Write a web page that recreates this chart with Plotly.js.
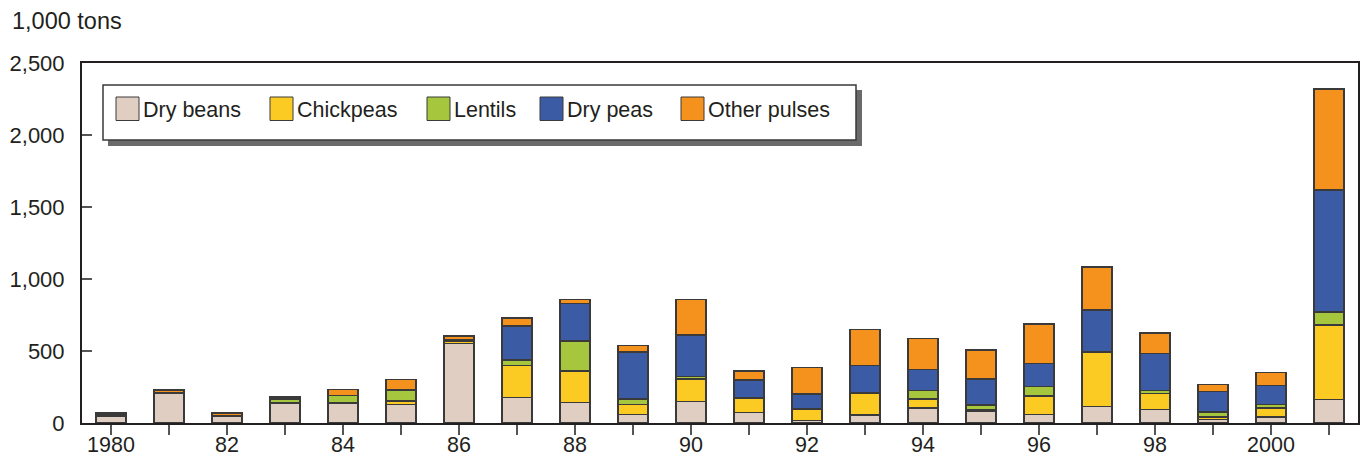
<!DOCTYPE html>
<html>
<head>
<meta charset="utf-8">
<script src="https://cdn.plot.ly/plotly-3.0.1.min.js"></script>
<style>
  html, body { margin: 0; padding: 0; background: #ffffff; }
  #chart { width: 1361px; height: 457px; }
</style>
</head>
<body>
<div id="chart"></div>
<script>
// ---- Data (1,000 tons) ----
const years = [1980, 1981, 1982, 1983, 1984, 1985, 1986, 1987, 1988, 1989, 1990,
               1991, 1992, 1993, 1994, 1995, 1996, 1997, 1998, 1999, 2000, 2001];
const dryBeans    = [45, 205, 45, 135, 137, 130, 552, 177, 144, 58, 151, 72, 19, 56, 104, 82, 60, 116, 95, 26, 42, 163];
const chickpeas   = [2, 3, 3, 5, 3, 23, 15, 224, 218, 70, 155, 102, 78, 148, 61, 12, 128, 373, 109, 14, 62, 516];
const lentils     = [12, 3, 3, 25, 50, 74, 8, 35, 208, 37, 18, 3, 4, 3, 62, 32, 67, 5, 23, 37, 26, 91];
const dryPeas     = [5, 2, 2, 3, 2, 3, 5, 236, 260, 327, 286, 120, 100, 194, 146, 178, 158, 290, 255, 143, 132, 847];
const otherPulses = [6, 15, 17, 13, 40, 72, 23, 58, 28, 46, 248, 65, 184, 248, 214, 202, 273, 301, 144, 47, 88, 703];

const seriesNames = ["Dry beans", "Chickpeas", "Lentils", "Dry peas", "Other pulses"];
const xTickLabels = ["1980", "", "82", "", "84", "", "86", "", "88", "", "90",
                     "", "92", "", "94", "", "96", "", "98", "", "2000", ""];
const yTickValues = [0, 500, 1000, 1500, 2000, 2500];
const unitLabel = "1,000 tons";

// ---- Styles ----
const seriesValues = [dryBeans, chickpeas, lentils, dryPeas, otherPulses];
const colors = ["#E0CEC2", "#FBCB24", "#A5C63D", "#3C5BA5", "#F5921E"];
const FONT = "Liberation Sans, Arial, Helvetica, sans-serif";
const TXT = "#231f20";

const traces = seriesNames.map((name, i) => ({
  type: "bar",
  name: name,
  x: years,
  y: seriesValues[i],
  marker: { color: colors[i], line: { color: "#3a3a3a", width: 1.5 } },
  showlegend: false,
  hoverinfo: "x+y+name"
}));

// plot-area geometry (pixels) for placing the hand-drawn legend
const W = 1361, H = 457;
const M = { l: 82, r: 3, t: 63, b: 34 };
const pw = W - M.l - M.r, ph = H - M.t - M.b;
const px = x => (x - M.l) / pw;
const py = y => (H - M.b - y) / ph;

const shapes = [];
const annotations = [];

// legend shadow + box
shapes.push({ type: "rect", xref: "paper", yref: "paper", layer: "above",
  x0: px(108), x1: px(862), y0: py(146), y1: py(90),
  fillcolor: "#6a6a6a", line: { width: 0 } });
shapes.push({ type: "rect", xref: "paper", yref: "paper", layer: "above",
  x0: px(103), x1: px(856), y0: py(140), y1: py(85),
  fillcolor: "#ffffff", line: { color: "#3a3a3a", width: 1.5 } });

const swatchLeft = [116, 270, 427, 540, 681];
seriesNames.forEach((name, i) => {
  const sx = swatchLeft[i];
  shapes.push({ type: "rect", xref: "paper", yref: "paper", layer: "above",
    x0: px(sx), x1: px(sx + 23), y0: py(120.5), y1: py(97),
    fillcolor: colors[i], line: { color: "#3a3a3a", width: 1 } });
  annotations.push({ xref: "paper", yref: "paper", x: px(sx + 25), y: py(110),
    xanchor: "left", yanchor: "middle", showarrow: false, text: name,
    font: { family: FONT, size: 21.5, color: TXT } });
});

// unit label
annotations.push({ xref: "paper", yref: "paper", x: px(10), y: py(21),
  xanchor: "left", yanchor: "middle", showarrow: false, text: unitLabel,
  font: { family: FONT, size: 23.5, color: TXT } });

const layout = {
  width: W, height: H,
  margin: M,
  paper_bgcolor: "#ffffff",
  plot_bgcolor: "#ffffff",
  barmode: "stack",
  bargap: 0.49,
  showlegend: false,
  font: { family: FONT, size: 21.5, color: TXT },
  xaxis: {
    range: [1979.5, 2001.5],
    tickmode: "array",
    tickvals: years,
    ticktext: xTickLabels,
    ticks: "outside", ticklen: 10, tickwidth: 1.5, tickcolor: "#555555",
    ticklabelstandoff: -9,
    showline: true, linecolor: TXT, linewidth: 2, mirror: true,
    showgrid: false, zeroline: false,
    tickfont: { family: FONT, size: 21.5, color: TXT }
  },
  yaxis: {
    range: [0, 2500],
    tickmode: "array",
    tickvals: yTickValues,
    tickformat: ",",
    ticks: "inside", ticklen: 10, tickwidth: 1.5, tickcolor: "#555555",
    ticklabelstandoff: 11,
    showline: true, linecolor: TXT, linewidth: 2, mirror: true,
    showgrid: false, zeroline: false,
    tickfont: { family: FONT, size: 22, color: TXT }
  },
  shapes: shapes,
  annotations: annotations
};

Plotly.newPlot("chart", traces, layout, { displayModeBar: false, staticPlot: true });
</script>
</body>
</html>
